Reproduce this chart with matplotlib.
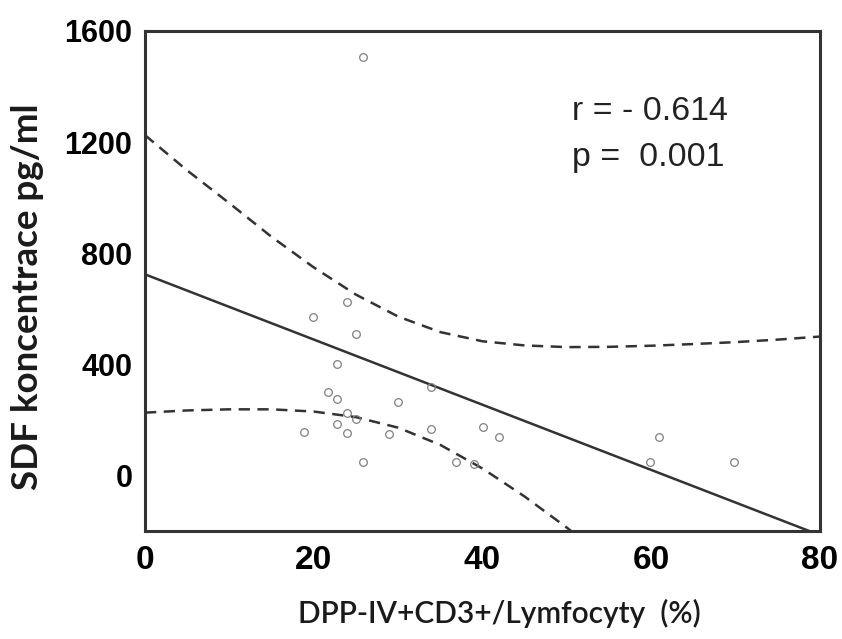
import matplotlib
matplotlib.use("Agg")
import matplotlib.pyplot as plt

# scatter points (DPP-IV+CD3+/Lymfocyty %, SDF pg/ml)
dpp = [23.9, 19.9, 25.0, 22.8, 21.7, 22.8, 23.9, 25.0, 22.8, 23.9, 18.9, 25.8,
       33.9, 30.0, 28.9, 33.9, 40.0, 41.9, 36.9, 39.0, 60.9, 59.9, 69.8, 25.8]
sdf = [624, 572, 508, 402, 300, 275, 226, 202, 184, 154, 155, 50,
       320, 264, 148, 169, 176, 137, 50, 41, 137, 50, 50, 1506]

# regression line end points
line_x = [0, 80]
line_y = [724, -215]

# confidence band
ci_x = [0, 5, 10, 15, 20, 25, 30, 35, 40, 45, 50, 55, 60, 65, 70, 75, 80]
ci_upper = [1225, 1098, 980, 859, 749, 651, 572, 516, 483, 468, 462, 463,
            467, 473, 480, 489, 500]
ci_lower = [226, 234, 238, 238, 230, 210, 172, 110, 25, -76, -188, -307,
            -430, -550, -670, -800, -920]

r_text = "r = - 0.614"
p_text = "p =  0.001"

fig = plt.figure(figsize=(8.42, 6.39), dpi=100)
ax = fig.add_axes([145 / 842, 1 - 531 / 639, 675 / 842, 500 / 639])

ax.plot(ci_x, ci_upper, color="#333333", lw=1.8, ls=(0, (4.5, 3)))
ax.plot(ci_x, ci_lower, color="#333333", lw=1.8, ls=(0, (4.5, 3)))
ax.plot(line_x, line_y, color="#333333", lw=1.8)
ax.plot(dpp, sdf, ls="none", marker="o", ms=5.5, mfc="none",
        mec="#808080", mew=0.9)

ax.set_xlim(0, 80)
ax.set_ylim(-200, 1600)
ax.set_xticks([0, 20, 40, 60, 80])
ax.set_yticks([0, 400, 800, 1200, 1600])
ax.tick_params(length=0)
ax.tick_params(axis="y", pad=9)
ax.tick_params(axis="x", pad=10)
for lab in ax.get_xticklabels():
    lab.set_fontfamily("Liberation Sans")
    lab.set_fontweight("bold")
    lab.set_fontsize(24)
for lab in ax.get_yticklabels():
    lab.set_fontfamily("Liberation Sans")
    lab.set_fontweight("bold")
    lab.set_fontsize(22)

for s in ax.spines.values():
    s.set_linewidth(2.2)
    s.set_color("#333333")

ax.set_xlabel("DPP-IV+CD3+/Lymfocyty  (%)", fontfamily="Lato",
              fontweight="semibold", fontsize=21.5, color="#1a1a1a")
ax.xaxis.set_label_coords(0.525, -0.135)
ax.set_ylabel("SDF koncentrace pg/ml", fontfamily="Lato", fontweight="bold",
              fontsize=26.5, color="#1a1a1a")
ax.yaxis.set_label_coords(-0.15, 0.468)

ax.text(0.633, 0.822, r_text, transform=ax.transAxes, fontfamily="Liberation Sans",
        fontsize=24.5, va="baseline", color="#222222")
ax.text(0.633, 0.730, p_text, transform=ax.transAxes, fontfamily="Liberation Sans",
        fontsize=24.5, va="baseline", color="#222222")

fig.savefig("out.png", dpi=100)
